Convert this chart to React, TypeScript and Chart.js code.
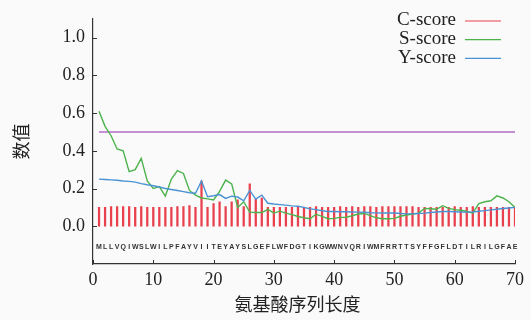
import React, { useEffect, useRef } from "react";
import { Chart, registerables } from "chart.js";

Chart.register(...registerables);

const residues = "MLLVQIWSLWILPFAYVIITEYAYSLGEFLWFDGTIKGWWNVQRIWMFRRTTSYFFGFLDTILRILGFAE".split("");

const cScore = [
  0.1, 0.1, 0.105, 0.105, 0.105, 0.105, 0.1, 0.105, 0.1, 0.1,
  0.1, 0.1, 0.1, 0.105, 0.105, 0.11, 0.1, 0.24, 0.1, 0.12,
  0.13, 0.105, 0.13, 0.14, 0.105, 0.225, 0.145, 0.15, 0.1, 0.1,
  0.1, 0.1, 0.1, 0.1, 0.1, 0.1, 0.105, 0.1, 0.1, 0.1,
  0.105, 0.1, 0.105, 0.1, 0.105, 0.105, 0.1, 0.105, 0.105, 0.105,
  0.105, 0.105, 0.105, 0.1, 0.1, 0.1, 0.1, 0.1, 0.1, 0.105,
  0.1, 0.1, 0.105, 0.1, 0.1, 0.1, 0.1, 0.1, 0.1, 0.1,
];

const sScore = [
  0.61, 0.53, 0.48, 0.41, 0.4, 0.29, 0.3, 0.36, 0.24, 0.2,
  0.21, 0.16, 0.25, 0.295, 0.28, 0.19, 0.165, 0.15, 0.145, 0.14,
  0.185, 0.245, 0.225, 0.1, 0.13, 0.075, 0.073, 0.073, 0.09, 0.07,
  0.08, 0.07, 0.062, 0.052, 0.045, 0.04, 0.064, 0.052, 0.04, 0.042,
  0.047, 0.048, 0.056, 0.065, 0.068, 0.056, 0.045, 0.04, 0.04, 0.042,
  0.053, 0.06, 0.065, 0.07, 0.095, 0.093, 0.09, 0.109, 0.095, 0.088,
  0.085, 0.08, 0.07, 0.12, 0.13, 0.135, 0.161, 0.15, 0.13, 0.1,
];

const yScore = [
  0.25, 0.248, 0.246, 0.244, 0.24, 0.238, 0.234, 0.226, 0.22, 0.215,
  0.208, 0.2, 0.195, 0.19, 0.184, 0.178, 0.175, 0.24, 0.157, 0.162,
  0.168, 0.148, 0.16, 0.155, 0.135, 0.19, 0.144, 0.165, 0.122, 0.118,
  0.115, 0.112, 0.108, 0.106, 0.1, 0.092, 0.088, 0.082, 0.078, 0.078,
  0.077, 0.077, 0.076, 0.075, 0.074, 0.072, 0.071, 0.07, 0.07, 0.07,
  0.068, 0.066, 0.066, 0.068, 0.07, 0.073, 0.076, 0.078, 0.078, 0.077,
  0.076, 0.075, 0.076, 0.08, 0.083, 0.087, 0.09, 0.094, 0.097, 0.1,
];

const cutoff = 0.5;
const yTicks = [0, 0.2, 0.4, 0.6, 0.8, 1.0];
const xTickStep = 10;
const xMin = 0;
const xMax = 70;
const yMin = -0.2;
const yMax = 1.1;
const residueRow = -0.11;
const seriesNames = ["C-score", "S-score", "Y-score"];
const seriesColors = ["#e8404c", "#4cb34c", "#4a92d4"];
const cutoffColor = "#b36bc9";
const xTitle = "氨基酸序列长度";
const yTitle = "数值";

const positions = residues.map((_, i) => i + 1);

const decorPlugin = {
  id: "decor",
  afterDraw(chart: any) {
    const { ctx, scales } = chart;
    const xs = scales.x;
    const ys = scales.y;
    ctx.save();
    // inner tick marks
    ctx.strokeStyle = "#333";
    ctx.lineWidth = 1;
    ctx.beginPath();
    for (const t of xs.ticks) {
      const px = Math.round(xs.getPixelForValue(t.value)) + 0.5;
      ctx.moveTo(px, ys.bottom);
      ctx.lineTo(px, ys.bottom - 4);
    }
    for (const t of ys.ticks) {
      const py = Math.round(ys.getPixelForValue(t.value)) + 0.5;
      ctx.moveTo(xs.left, py);
      ctx.lineTo(xs.left + 4, py);
    }
    ctx.stroke();

    // residue letters
    ctx.fillStyle = "#333";
    ctx.font = "bold 7px 'Liberation Sans', Arial, sans-serif";
    ctx.textAlign = "center";
    ctx.textBaseline = "middle";
    const ry = ys.getPixelForValue(residueRow);
    residues.forEach((r, i) => {
      ctx.fillText(r, xs.getPixelForValue(positions[i]), ry);
    });

    // legend
    ctx.font = "19px 'Liberation Serif', 'Times New Roman', serif";
    ctx.textAlign = "right";
    ctx.fillStyle = "#222";
    seriesNames.forEach((name, i) => {
      const cy = 20.5 + i * 18.7;
      ctx.fillText(name, 456, cy);
      ctx.strokeStyle = seriesColors[i];
      ctx.lineWidth = 1.2;
      ctx.beginPath();
      ctx.moveTo(465, cy + 0.5);
      ctx.lineTo(501, cy + 0.5);
      ctx.stroke();
    });

    // axis titles
    ctx.fillStyle = "#222";
    ctx.font = "18px 'Noto Sans CJK SC', sans-serif";
    ctx.textAlign = "center";
    ctx.textBaseline = "middle";
    ctx.fillText(xTitle, 297.5, 304);
    ctx.translate(21.5, (ys.top + ys.bottom) / 2);
    ctx.rotate(-Math.PI / 2);
    ctx.fillText(yTitle, 0, 0);
    ctx.restore();
  },
};

export default function App() {
  const ref = useRef<HTMLCanvasElement | null>(null);

  useEffect(() => {
    document.body.style.background = "#fafafa";
    const canvas = ref.current;
    if (!canvas) return;
    const chart = new Chart(canvas, {
      type: "bar",
      data: {
        datasets: [
          {
            type: "line",
            label: seriesNames[2],
            data: positions.map((p, i) => ({ x: p, y: yScore[i] })),
            borderColor: seriesColors[2],
            borderWidth: 1.4,
            pointRadius: 0,
            tension: 0,
            order: 1,
          },
          {
            type: "line",
            label: seriesNames[1],
            data: positions.map((p, i) => ({ x: p, y: sScore[i] })),
            borderColor: seriesColors[1],
            borderWidth: 1.4,
            pointRadius: 0,
            tension: 0,
            order: 2,
          },
          {
            type: "line",
            label: "cutoff",
            data: [
              { x: positions[0], y: cutoff },
              { x: positions[positions.length - 1], y: cutoff },
            ],
            borderColor: cutoffColor,
            borderWidth: 1.4,
            pointRadius: 0,
            order: 3,
          },
          {
            type: "bar",
            label: seriesNames[0],
            data: positions.map((p, i) => ({ x: p, y: cScore[i] })),
            backgroundColor: seriesColors[0],
            borderWidth: 0,
            barThickness: 1.6,
            maxBarThickness: 1.6,
            order: 4,
          },
        ] as any,
      },
      options: {
        animation: false,
        responsive: false,
        layout: { padding: { top: 14, right: 16, left: 0, bottom: 0 } },
        plugins: {
          legend: { display: false },
          tooltip: { enabled: false },
        },
        scales: {
          x: {
            type: "linear",
            min: xMin,
            max: xMax,
            offset: false,
            grid: { display: false, drawTicks: false },
            border: { display: true, color: "#333", width: 1.2 },
            ticks: {
              stepSize: xTickStep,
              padding: 5,
              color: "#222",
              font: { family: "'Liberation Serif', serif", size: 18 },
              maxRotation: 0,
            },
            afterFit: (s: any) => {
              s.height = 56;
            },
          },
          y: {
            type: "linear",
            min: yMin,
            max: yMax,
            grid: { display: false, drawTicks: false },
            border: { display: true, color: "#333", width: 1.2 },
            ticks: {
              padding: 8,
              color: "#222",
              font: { family: "'Liberation Serif', serif", size: 18 },
              callback: (v: any) => Number(v).toFixed(1),
            },
            afterBuildTicks: (s: any) => {
              s.ticks = yTicks.map((v) => ({ value: v }));
            },
            afterFit: (s: any) => {
              s.width = 93;
            },
          },
        },
      } as any,
      plugins: [decorPlugin],
    });
    return () => chart.destroy();
  }, []);

  return (
    <div style={{ position: "absolute", left: 0, top: 0, width: 531, height: 320, background: "#fafafa" }}>
      <canvas ref={ref} width={531} height={320} style={{ display: "block" }} />
    </div>
  );
}
